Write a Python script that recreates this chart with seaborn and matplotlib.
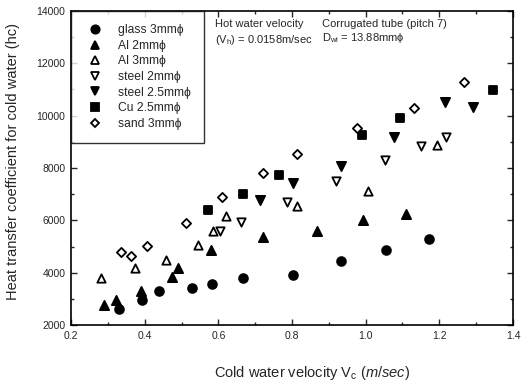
import numpy as np
import pandas as pd
import matplotlib
matplotlib.use('Agg')
import matplotlib.pyplot as plt
from matplotlib.ticker import MultipleLocator
import seaborn as sns

# data
glass_x = [0.33, 0.394, 0.439, 0.529, 0.583, 0.667, 0.802, 0.932, 1.056, 1.173]
glass_y = [2600, 2950, 3300, 3430, 3560, 3800, 3900, 4430, 4870, 5290]

al2_x = [0.29, 0.323, 0.389, 0.475, 0.491, 0.581, 0.72, 0.868, 0.992, 1.109]
al2_y = [2760, 2950, 3320, 3830, 4180, 4860, 5370, 5600, 6020, 6250]

al3_x = [0.281, 0.373, 0.459, 0.546, 0.586, 0.622, 0.813, 1.006, 1.194]
al3_y = [3780, 4190, 4480, 5070, 5600, 6170, 6530, 7120, 8880]

steel2_x = [0.605, 0.661, 0.786, 0.919, 1.053, 1.15, 1.218]
steel2_y = [5600, 5940, 6700, 7500, 8300, 8820, 9200]

steel25_x = [0.714, 0.804, 0.932, 1.076, 1.215, 1.291]
steel25_y = [6780, 7420, 8090, 9200, 10520, 10330]

cu_x = [0.573, 0.667, 0.765, 0.991, 1.094, 1.346]
cu_y = [6410, 7000, 7740, 9250, 9910, 10970]

sand_x = [0.335, 0.362, 0.407, 0.511, 0.61, 0.72, 0.813, 0.977, 1.13, 1.268]
sand_y = [4780, 4620, 5010, 5900, 6900, 7820, 8520, 9520, 10280, 11300]

labels = ['glass 3mmϕ', 'Al 2mmϕ', 'Al 3mmϕ', 'steel 2mmϕ',
          'steel 2.5mmϕ', 'Cu 2.5mmϕ', 'sand 3mmϕ']

sns.set_style('ticks')
plt.rcParams['font.family'] = ['Liberation Sans', 'DejaVu Sans']
plt.rcParams['mathtext.fontset'] = 'custom'
plt.rcParams['mathtext.rm'] = 'Liberation Sans'
plt.rcParams['mathtext.it'] = 'Liberation Sans:italic'

series = [
    (glass_x, glass_y, 'o', 'black', 40),
    (al2_x, al2_y, '^', 'black', 44),
    (al3_x, al3_y, '^', 'white', 36),
    (steel2_x, steel2_y, 'v', 'white', 36),
    (steel25_x, steel25_y, 'v', 'black', 44),
    (cu_x, cu_y, 's', 'black', 32),
    (sand_x, sand_y, 'D', 'white', 22),
]

fig = plt.figure(figsize=(5.24, 3.87), dpi=100)
ax = fig.add_axes([0.1355, 0.16, 0.8435, 0.812])

handles = []
for (xs, ys, mk, fc, s), lab in zip(series, labels):
    df = pd.DataFrame({'x': xs, 'y': ys})
    sns.scatterplot(data=df, x='x', y='y', marker=mk, s=s, color=fc,
                    edgecolor='black', linewidth=1.3, ax=ax, zorder=3)
    h = plt.Line2D([], [], linestyle='none', marker=mk, markersize=6 if mk != 'D' else 4.5,
                   markerfacecolor=fc, markeredgecolor='black', markeredgewidth=1.3)
    handles.append(h)

ax.set_xlim(0.2, 1.4)
ax.set_ylim(2000, 14000)
ax.xaxis.set_major_locator(MultipleLocator(0.2))
ax.xaxis.set_minor_locator(MultipleLocator(0.1))
ax.yaxis.set_major_locator(MultipleLocator(2000))
ax.yaxis.set_minor_locator(MultipleLocator(1000))
ax.xaxis.set_major_formatter(matplotlib.ticker.FormatStrFormatter('%.1f'))
ax.tick_params(which='both', direction='in', top=True, right=True, width=1.0,
               labelsize=7.5, pad=4)
ax.tick_params(which='major', length=4)
ax.tick_params(which='minor', length=2)
for sp in ax.spines.values():
    sp.set_linewidth(1.2)
    sp.set_color('black')

ax.set_xlabel(r'Cold water velocity V$_\mathregular{c}$ ($\it{m/sec}$)', fontsize=10.5)
ax.set_ylabel('Heat transfer coefficient for cold water (hc)', fontsize=10.5)
ax.xaxis.set_label_coords(0.545, -0.125)
ax.yaxis.set_label_coords(-0.115, 0.522)

leg = ax.legend(handles, labels, loc='upper left', borderaxespad=0, fontsize=8.7,
                frameon=True, fancybox=False, edgecolor='black', handletextpad=1.0,
                labelspacing=0.3, borderpad=1.1, handlelength=1.8)
leg.get_frame().set_linewidth(1.0)

ax.text(0.326, 0.959, 'Hot water velocity', transform=ax.transAxes, fontsize=8, va='center')
ax.text(0.326, 0.908, r'(V$_\mathregular{h}$) = 0.0158m/sec', transform=ax.transAxes, fontsize=8, va='center')
ax.text(0.568, 0.959, 'Corrugated tube (pitch 7)', transform=ax.transAxes, fontsize=8, va='center')
ax.text(0.568, 0.915, r'D$_\mathregular{wi}$ = 13.88mmϕ', transform=ax.transAxes, fontsize=8, va='center')

fig.savefig('out.png', dpi=100)
